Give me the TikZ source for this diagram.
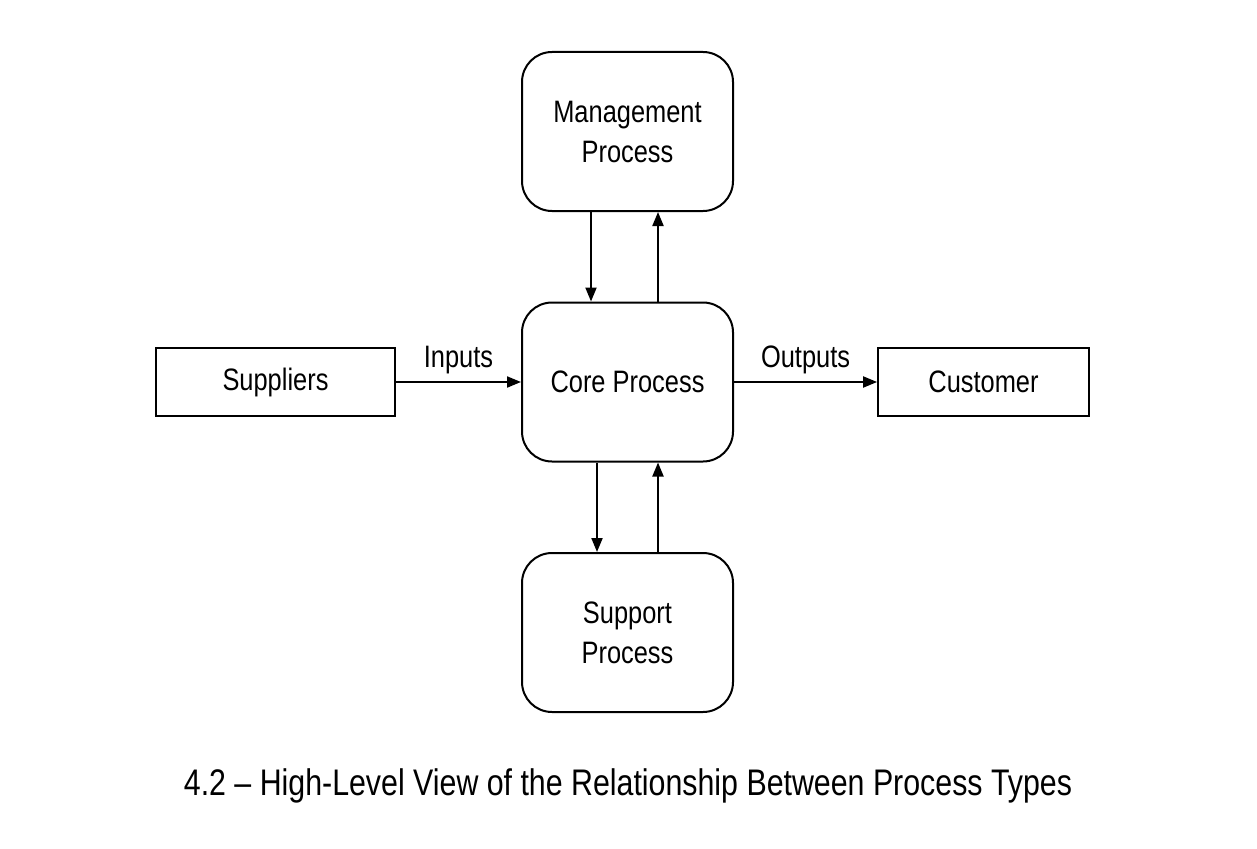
\documentclass[tikz,border=0pt]{standalone}
\usepackage{fontspec}
\setmainfont[FakeStretch=0.82]{Liberation Sans}
\usetikzlibrary{arrows.meta}
\begin{document}
\begin{tikzpicture}[x=1pt,y=-1pt,
  rbox/.style={draw,line width=2pt,rounded corners=30pt,minimum width=211pt,minimum height=159pt,align=center,font=\fontsize{31}{40}\selectfont,inner sep=0pt},
  sbox/.style={draw,line width=1.8pt,minimum height=68pt,font=\fontsize{31}{40}\selectfont,inner sep=0pt},
  arr/.style={line width=2pt,-{Triangle[length=14pt,width=11pt]}},
  lbl/.style={font=\fontsize{31}{40}\selectfont}]
\useasboundingbox (0,0) rectangle (1257,848);
\node[rbox] (mgmt) at (627.5,131.5) {Management\\Process};
\node[rbox] (core) at (627.5,382) {Core Process};
\node[rbox] (supp) at (627.5,632.5) {Support\\Process};
\node[sbox,minimum width=239pt] (sup) at (275.5,382) {Suppliers};
\node[sbox,minimum width=211pt] (cus) at (983.5,382) {Customer};
\draw[arr] (mgmt.south -| 591,0) -- (core.north -| 591,0);
\draw[arr] (core.north -| 658,0) -- (mgmt.south -| 658,0);
\draw[arr] (core.south -| 597,0) -- (supp.north -| 597,0);
\draw[arr] (supp.north -| 658,0) -- (core.south -| 658,0);
\draw[arr] (sup) -- node[lbl,above=4pt] (in) {Inputs} (core);
\draw[arr] (core) -- node[lbl,above=4pt] (out) {Outputs} (cus);
\node[font=\fontsize{37}{44}\selectfont] (cap) at (628,786) {4.2 – High-Level View of the Relationship Between Process Types};
\end{tikzpicture}
\end{document}
